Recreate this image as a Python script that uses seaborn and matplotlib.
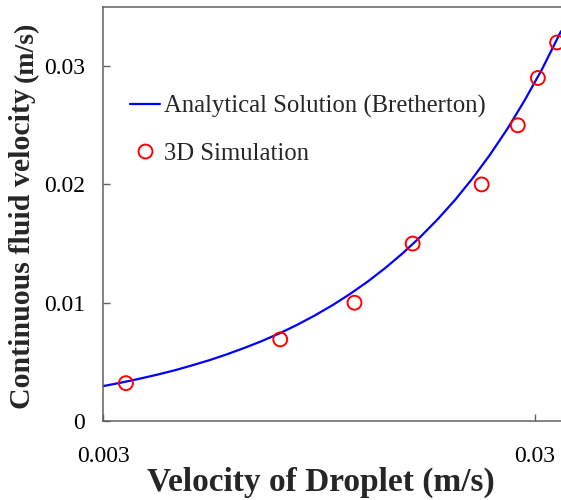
import matplotlib
matplotlib.use("Agg")
import matplotlib.pyplot as plt
from matplotlib.lines import Line2D
from matplotlib.ticker import NullLocator, FixedLocator, FixedFormatter
import seaborn as sns
import pandas as pd

# Analytical (Bretherton) curve: droplet velocity vs continuous-phase velocity
curve_droplet_v = [0.0030, 0.0033, 0.0036, 0.0040, 0.0044, 0.0048, 0.0053, 0.0058,
                   0.0064, 0.0070, 0.0077, 0.0085, 0.0093, 0.0102, 0.0112, 0.0123,
                   0.0135, 0.0148, 0.0163, 0.0179, 0.0196, 0.0215, 0.0236, 0.0259,
                   0.0284, 0.0312, 0.0345]
curve_fluid_v = [0.00295, 0.00324, 0.00353, 0.00391, 0.00429, 0.00468, 0.00515, 0.00563,
                 0.00620, 0.00676, 0.00742, 0.00818, 0.00894, 0.00979, 0.01074, 0.01178,
                 0.01292, 0.01415, 0.01557, 0.01708, 0.01868, 0.02049, 0.02249, 0.02468,
                 0.02709, 0.02976, 0.03295]

# 3D simulation results
sim_droplet_v = [0.00339, 0.00772, 0.01147, 0.01564, 0.0226, 0.0274, 0.0305, 0.0338]
sim_fluid_v = [0.0032, 0.0069, 0.0100, 0.0150, 0.0200, 0.0250, 0.0290, 0.0320]

x_ticks = [0.003, 0.03]
x_tick_labels = ["0.003", "0.03"]
y_ticks = [0, 0.01, 0.02, 0.03]
y_tick_labels = ["0", "0.01", "0.02", "0.03"]

curve_df = pd.DataFrame({"droplet": curve_droplet_v, "fluid": curve_fluid_v})
sim_df = pd.DataFrame({"droplet": sim_droplet_v, "fluid": sim_fluid_v})

sns.set_theme(style="ticks")
plt.rcParams["font.family"] = ["Liberation Serif", "DejaVu Serif"]

fig = plt.figure(figsize=(5.61, 5.0), dpi=100)
ax = fig.add_axes([103 / 561, 1 - 421 / 500, 1 - 103 / 561, (421 - 7) / 500])

sns.lineplot(data=curve_df, x="droplet", y="fluid", ax=ax, color="#0000ff",
             linewidth=1.6, sort=True, estimator=None)
sns.scatterplot(data=sim_df, x="droplet", y="fluid", ax=ax, marker="o", s=100,
                facecolors="none", edgecolor="#ff0000", linewidth=1.4, zorder=3)

ax.set_xscale("log")
ax.set_xlim(0.003, 0.0345)
ax.set_ylim(0, 0.035)

ax.xaxis.set_major_locator(FixedLocator(x_ticks))
ax.xaxis.set_major_formatter(FixedFormatter(x_tick_labels))
ax.xaxis.set_minor_locator(NullLocator())
ax.yaxis.set_major_locator(FixedLocator(y_ticks))
ax.yaxis.set_major_formatter(FixedFormatter(y_tick_labels))

spine_color = "#606060"
for side in ["left", "bottom", "top"]:
    ax.spines[side].set_color(spine_color)
    ax.spines[side].set_linewidth(1.1)
ax.spines["right"].set_visible(False)

ax.tick_params(axis="both", which="major", direction="in", length=5,
               width=1.0, color=spine_color, labelsize=17, labelcolor="black")
ax.tick_params(axis="x", pad=18)
ax.tick_params(axis="y", pad=13)

ax.set_xlabel("")
ax.set_ylabel("")

# Axis titles
fig.text(321 / 561, 1 - 482 / 500, "Velocity of Droplet (m/s)", ha="center",
         va="center", fontsize=24, fontweight="bold")
fig.text(23 / 561, 1 - 249 / 500, "Continuous fluid velocity", rotation=90,
         ha="center", va="center", fontsize=21.5, fontweight="bold")
fig.text(26 / 561, 1 - 52 / 500, "(m/s)", rotation=90, ha="center",
         va="center", fontsize=20, fontweight="bold")

handles = [
    Line2D([], [], color="#0000ff", linewidth=1.6),
    Line2D([], [], linestyle="none", marker="o", markersize=10,
           markerfacecolor="none", markeredgecolor="#ff0000", markeredgewidth=1.4),
]
labels = ["Analytical Solution (Bretherton)", "3D Simulation"]
ax.legend(handles, labels, loc="upper left",
          bbox_to_anchor=((130 - 103) / 458, (421 - 95) / 414),
          frameon=False, fontsize=17.8, borderpad=0, borderaxespad=0,
          handlelength=1.22, handletextpad=0.15, labelspacing=1.0)

fig.savefig("out.png", dpi=100)
